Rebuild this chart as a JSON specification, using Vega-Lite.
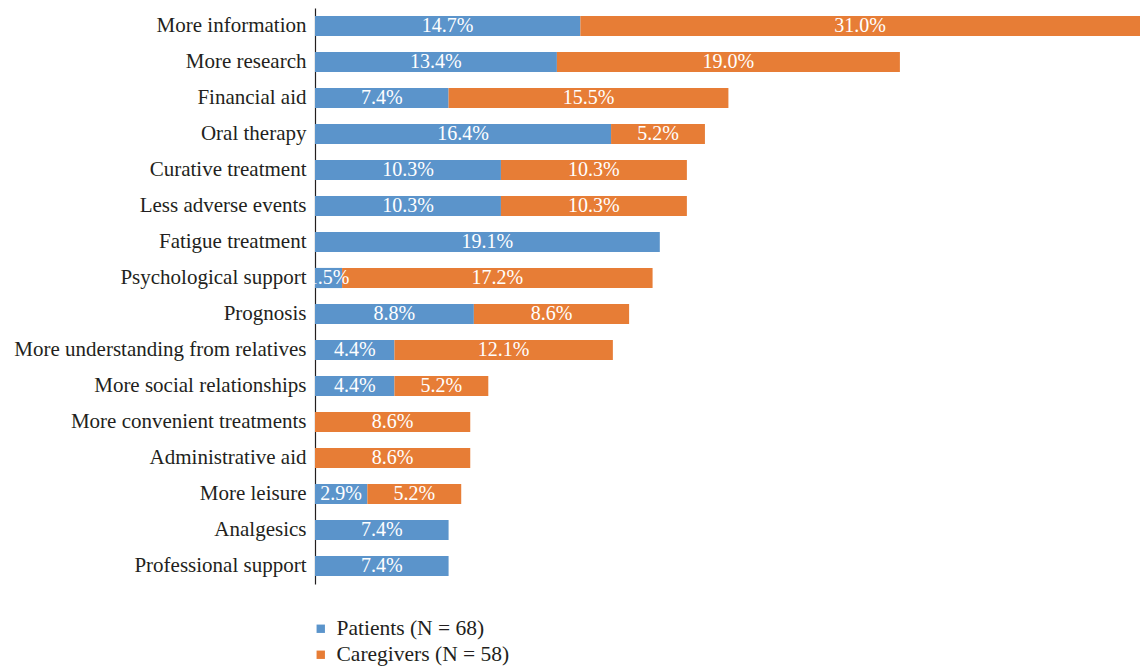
{
  "$schema": "https://vega.github.io/schema/vega-lite/v6.json",
  "width": 825,
  "height": 576,
  "autosize": {"type": "none"},
  "padding": {"left": 315, "top": 8, "right": 0, "bottom": 83},
  "background": "white",
  "config": {"view": {"stroke": null}, "font": "Liberation Serif"},
  "data": {
    "values": [
      {"need": "More information", "group": "Patients (N = 68)", "g": 1, "value": 14.7},
      {"need": "More information", "group": "Caregivers (N = 58)", "g": 2, "value": 31.0},
      {"need": "More research", "group": "Patients (N = 68)", "g": 1, "value": 13.4},
      {"need": "More research", "group": "Caregivers (N = 58)", "g": 2, "value": 19.0},
      {"need": "Financial aid", "group": "Patients (N = 68)", "g": 1, "value": 7.4},
      {"need": "Financial aid", "group": "Caregivers (N = 58)", "g": 2, "value": 15.5},
      {"need": "Oral therapy", "group": "Patients (N = 68)", "g": 1, "value": 16.4},
      {"need": "Oral therapy", "group": "Caregivers (N = 58)", "g": 2, "value": 5.2},
      {"need": "Curative treatment", "group": "Patients (N = 68)", "g": 1, "value": 10.3},
      {"need": "Curative treatment", "group": "Caregivers (N = 58)", "g": 2, "value": 10.3},
      {"need": "Less adverse events", "group": "Patients (N = 68)", "g": 1, "value": 10.3},
      {"need": "Less adverse events", "group": "Caregivers (N = 58)", "g": 2, "value": 10.3},
      {"need": "Fatigue treatment", "group": "Patients (N = 68)", "g": 1, "value": 19.1},
      {"need": "Psychological support", "group": "Patients (N = 68)", "g": 1, "value": 1.5},
      {"need": "Psychological support", "group": "Caregivers (N = 58)", "g": 2, "value": 17.2},
      {"need": "Prognosis", "group": "Patients (N = 68)", "g": 1, "value": 8.8},
      {"need": "Prognosis", "group": "Caregivers (N = 58)", "g": 2, "value": 8.6},
      {"need": "More understanding from relatives", "group": "Patients (N = 68)", "g": 1, "value": 4.4},
      {"need": "More understanding from relatives", "group": "Caregivers (N = 58)", "g": 2, "value": 12.1},
      {"need": "More social relationships", "group": "Patients (N = 68)", "g": 1, "value": 4.4},
      {"need": "More social relationships", "group": "Caregivers (N = 58)", "g": 2, "value": 5.2},
      {"need": "More convenient treatments", "group": "Caregivers (N = 58)", "g": 2, "value": 8.6},
      {"need": "Administrative aid", "group": "Caregivers (N = 58)", "g": 2, "value": 8.6},
      {"need": "More leisure", "group": "Patients (N = 68)", "g": 1, "value": 2.9},
      {"need": "More leisure", "group": "Caregivers (N = 58)", "g": 2, "value": 5.2},
      {"need": "Analgesics", "group": "Patients (N = 68)", "g": 1, "value": 7.4},
      {"need": "Professional support", "group": "Patients (N = 68)", "g": 1, "value": 7.4}
    ]
  },
  "encoding": {
    "y": {
      "field": "need",
      "type": "nominal",
      "sort": ["More information", "More research", "Financial aid", "Oral therapy", "Curative treatment", "Less adverse events", "Fatigue treatment", "Psychological support", "Prognosis", "More understanding from relatives", "More social relationships", "More convenient treatments", "Administrative aid", "More leisure", "Analgesics", "Professional support"],
      "scale": {"paddingInner": 0.44, "paddingOuter": 0.22},
      "axis": {
        "title": null,
        "ticks": false,
        "domainColor": "#231f20",
        "domainWidth": 1.2,
        "labelFont": "Liberation Serif",
        "labelFontSize": 21,
        "labelColor": "#231f20",
        "labelPadding": 9,
        "labelLimit": 400
      }
    }
  },
  "layer": [
    {
      "mark": {"type": "bar"},
      "encoding": {
        "x": {
          "field": "value",
          "type": "quantitative",
          "stack": "zero",
          "scale": {"domain": [0, 45.7], "nice": false, "zero": true},
          "axis": null
        },
        "order": {"field": "g", "type": "quantitative"},
        "color": {
          "field": "group",
          "type": "nominal",
          "sort": ["Patients (N = 68)", "Caregivers (N = 58)"],
          "scale": {"domain": ["Patients (N = 68)", "Caregivers (N = 58)"], "range": ["#5B94CB", "#E77D36"]},
          "legend": {
            "title": null,
            "orient": "none",
            "legendX": -5,
            "legendY": 610,
            "symbolType": "square",
            "symbolSize": 70,
            "symbolStrokeWidth": 0,
            "labelFont": "Liberation Serif",
            "labelFontSize": 21.5,
            "labelColor": "#231f20",
            "labelOffset": 5,
            "labelLimit": 400,
            "rowPadding": 3
          }
        }
      }
    },
    {
      "mark": {"type": "text", "color": "white", "fontSize": 20, "font": "Liberation Serif", "align": "center", "baseline": "middle", "text": {"expr": "format(datum.value, '.1f') + '%'"}},
      "encoding": {
        "x": {"field": "value", "type": "quantitative", "stack": "zero", "bandPosition": 0.5},
        "order": {"field": "g", "type": "quantitative"},
        "detail": {"field": "group"}
      }
    }
  ]
}
